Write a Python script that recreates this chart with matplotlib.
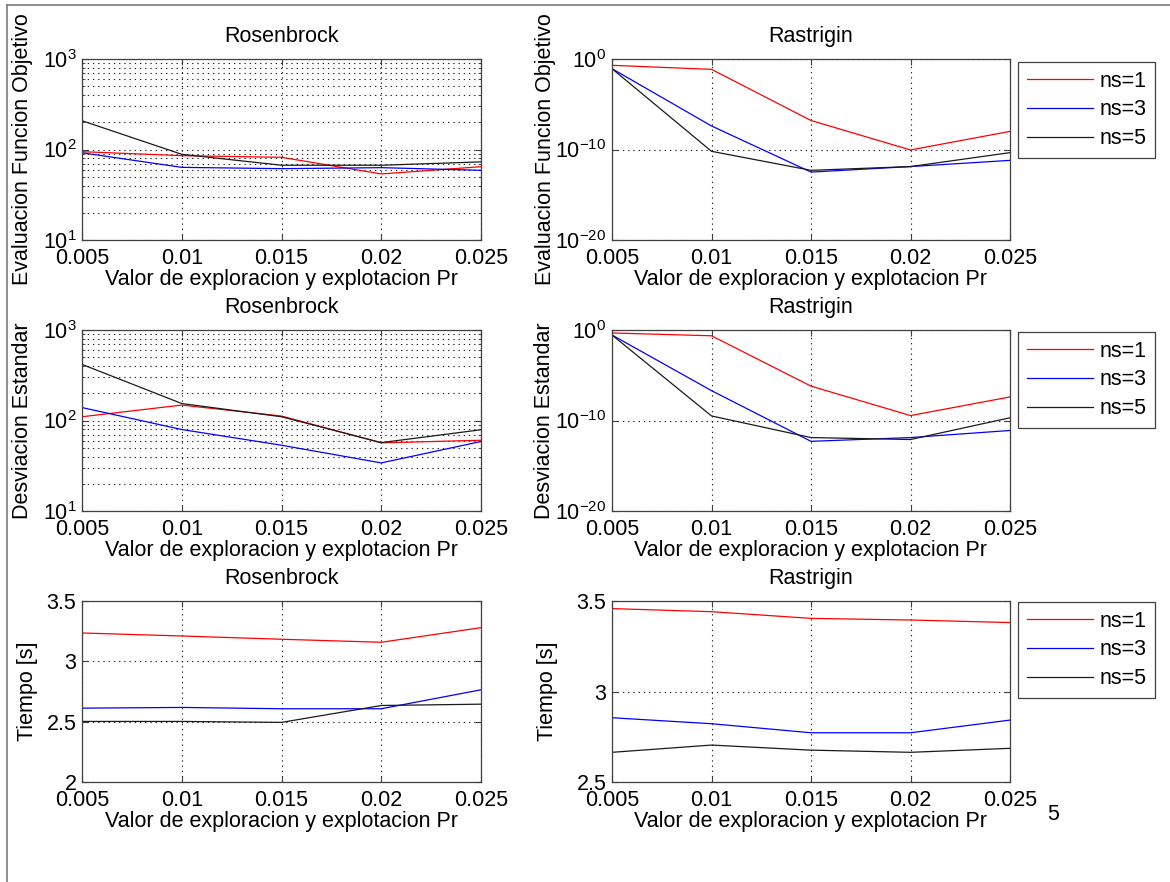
import matplotlib
matplotlib.use("Agg")
import matplotlib.pyplot as plt
from matplotlib.ticker import FixedLocator, NullLocator, LogLocator, NullFormatter
from matplotlib.lines import Line2D

plt.rcParams['font.family'] = ['Liberation Sans', 'DejaVu Sans']
plt.rcParams['mathtext.default'] = 'regular'
plt.rcParams['axes.unicode_minus'] = False

# Exploration/exploitation parameter
pr = [0.005, 0.01, 0.015, 0.02, 0.025]
pr_labels = ['0.005', '0.01', '0.015', '0.02', '0.025']
series_labels = ['ns=1', 'ns=3', 'ns=5']
series_colors = ['#ff0000', '#0000ff', '#1a1a1a']

# Objective function evaluation
ros_eval_ns1 = [94.6, 85.5, 82.0, 53.7, 64.6]
ros_eval_ns3 = [92.0, 63.5, 61.4, 63.0, 58.9]
ros_eval_ns5 = [208.0, 88.5, 67.0, 67.0, 73.0]
ras_eval_ns1 = [2.0e-1, 7.2e-2, 1.6e-7, 8.9e-11, 1.0e-8]
ras_eval_ns3 = [8.5e-2, 4.0e-8, 3.2e-13, 1.3e-12, 6.3e-12]
ras_eval_ns5 = [8.5e-2, 6.3e-11, 5.0e-13, 1.3e-12, 4.5e-11]

# Standard deviation
ros_std_ns1 = [110.0, 148.0, 112.0, 56.6, 60.5]
ros_std_ns3 = [139.0, 79.5, 53.3, 34.0, 58.6]
ros_std_ns5 = [417.0, 154.0, 110.0, 57.0, 79.0]
ras_std_ns1 = [4.7e-1, 2.3e-1, 6.3e-7, 3.5e-10, 4.0e-8]
ras_std_ns3 = [2.8e-1, 2.0e-7, 5.0e-13, 1.3e-12, 7.9e-12]
ras_std_ns5 = [2.8e-1, 3.2e-10, 1.3e-12, 7.9e-13, 2.0e-10]

# Run time [s]
ros_time_ns1 = [3.235, 3.210, 3.183, 3.158, 3.279]
ros_time_ns3 = [2.612, 2.618, 2.607, 2.607, 2.764]
ros_time_ns5 = [2.502, 2.502, 2.494, 2.634, 2.645]
ras_time_ns1 = [3.458, 3.441, 3.404, 3.395, 3.381]
ras_time_ns3 = [2.855, 2.822, 2.772, 2.772, 2.842]
ras_time_ns5 = [2.664, 2.704, 2.676, 2.664, 2.686]

W, H = 1170, 882
fig = plt.figure(figsize=(W / 100, H / 100), dpi=100)
FS = 15.5
GRID = dict(color='#222222', linestyle=(0, (1.2, 3.5)), linewidth=0.8)


def px_axes(x0, y0, x1, y1):
    return fig.add_axes([x0 / W, 1 - y1 / H, (x1 - x0) / W, (y1 - y0) / H])


def style(ax, title, ylabel, ylab_px):
    ax.set_xlim(pr[0], pr[-1])
    ax.set_xticks(pr)
    ax.set_xticklabels(pr_labels)
    ax.tick_params(which='both', direction='in', top=True, right=True,
                   labelsize=FS, color='#404040')
    ax.tick_params(axis='x', pad=6)
    ax.tick_params(axis='y', pad=4)
    ax.tick_params(which='major', length=4)
    ax.tick_params(which='minor', length=2)
    for s in ax.spines.values():
        s.set_color('#404040')
        s.set_linewidth(0.9)
    ax.set_axisbelow(True)
    ax.set_title(title, fontsize=FS, pad=12)
    ax.set_xlabel('Valor de exploracion y explotacion Pr', fontsize=FS, labelpad=0)
    ax.set_ylabel(ylabel, fontsize=FS, va='center')
    # place the y label centre at an absolute pixel column
    x0 = ax.get_position().x0 * W
    w = ax.get_position().width * W
    ax.yaxis.set_label_coords((ylab_px - x0) / w, 0.5)


def draw(ax, ys):
    for y, c, lab in zip(ys, series_colors, series_labels):
        ax.plot(pr, y, color=c, linewidth=0.9, label=lab)


def log_ros(ax):
    ax.set_yscale('log')
    ax.set_ylim(10, 1000)
    ax.yaxis.set_major_locator(FixedLocator([1e1, 1e2, 1e3]))
    ax.set_yticklabels([r'$10^{1}$', r'$10^{2}$', r'$10^{3}$'])
    ax.yaxis.set_minor_locator(LogLocator(base=10, subs=range(2, 10)))
    ax.yaxis.set_minor_formatter(NullFormatter())
    ax.grid(True, which='major', **GRID)
    ax.grid(True, which='minor', axis='y', **GRID)


def log_ras(ax):
    ax.set_yscale('log')
    ax.set_ylim(1e-20, 1e0)
    ax.yaxis.set_major_locator(FixedLocator([1e-20, 1e-10, 1e0]))
    ax.set_yticklabels([r'$10^{-20}$', r'$10^{-10}$', r'$10^{0}$'])
    ax.yaxis.set_minor_locator(NullLocator())
    ax.grid(True, which='major', **GRID)


def legend(ax, top_px):
    lg = ax.legend(loc='upper left', bbox_to_anchor=(1018 / W, 1 - top_px / H),
                   bbox_transform=fig.transFigure, borderaxespad=0,
                   fontsize=FS, handlelength=3.1, handletextpad=0.3,
                   labelspacing=0.36, borderpad=0.4, fancybox=False,
                   framealpha=1, edgecolor='#404040')
    lg.get_frame().set_linewidth(0.9)


rows = [(59, 240), (330, 511), (601, 782)]
LX = (82, 481)
RX = (612, 1010)

# Row 1: objective function value
ax = px_axes(LX[0], rows[0][0], LX[1], rows[0][1])
draw(ax, [ros_eval_ns1, ros_eval_ns3, ros_eval_ns5])
log_ros(ax)
style(ax, 'Rosenbrock', 'Evaluacion Funcion Objetivo', 23)

ax = px_axes(RX[0], rows[0][0], RX[1], rows[0][1])
draw(ax, [ras_eval_ns1, ras_eval_ns3, ras_eval_ns5])
log_ras(ax)
style(ax, 'Rastrigin', 'Evaluacion Funcion Objetivo', 545)
legend(ax, 62)

# Row 2: standard deviation
ax = px_axes(LX[0], rows[1][0], LX[1], rows[1][1])
draw(ax, [ros_std_ns1, ros_std_ns3, ros_std_ns5])
log_ros(ax)
style(ax, 'Rosenbrock', 'Desviacion Estandar', 23)

ax = px_axes(RX[0], rows[1][0], RX[1], rows[1][1])
draw(ax, [ras_std_ns1, ras_std_ns3, ras_std_ns5])
log_ras(ax)
style(ax, 'Rastrigin', 'Desviacion Estandar', 545)
legend(ax, 332)

# Row 3: run time
ax = px_axes(LX[0], rows[2][0], LX[1], rows[2][1])
draw(ax, [ros_time_ns1, ros_time_ns3, ros_time_ns5])
ax.set_ylim(2, 3.5)
ax.set_yticks([2, 2.5, 3, 3.5])
ax.set_yticklabels(['2', '2.5', '3', '3.5'])
ax.grid(True, **GRID)
style(ax, 'Rosenbrock', 'Tiempo [s]', 27)

ax = px_axes(RX[0], rows[2][0], RX[1], rows[2][1])
draw(ax, [ras_time_ns1, ras_time_ns3, ras_time_ns5])
ax.set_ylim(2.5, 3.5)
ax.set_yticks([2.5, 3, 3.5])
ax.set_yticklabels(['2.5', '3', '3.5'])
ax.grid(True, **GRID)
style(ax, 'Rastrigin', 'Tiempo [s]', 548)
legend(ax, 602)

# Page number and page frame
fig.text(1053 / W, 1 - 815 / H, '5', fontsize=FS, ha='center', va='center')
fig.add_artist(Line2D([7 / W, 1], [1 - 4.5 / H, 1 - 4.5 / H],
                      transform=fig.transFigure, color='#7a7a7a', linewidth=1.2))
fig.add_artist(Line2D([7 / W, 7 / W], [0, 1 - 4.5 / H],
                      transform=fig.transFigure, color='#7a7a7a', linewidth=1.2))

fig.savefig('out.png', dpi=100, facecolor='white')
